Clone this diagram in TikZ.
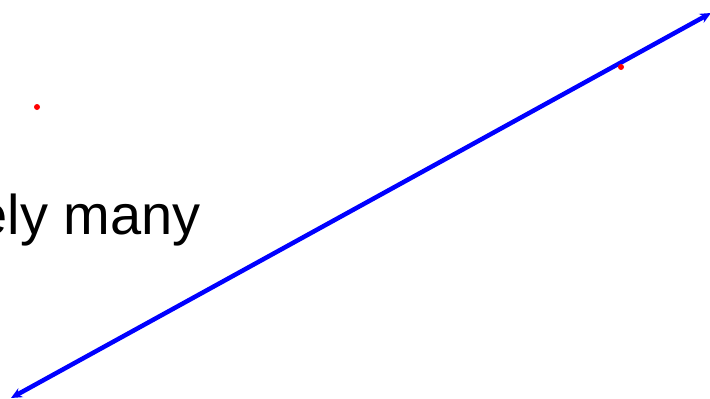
\documentclass[tikz,border=0pt]{standalone}
\usepackage{fontspec}
\setmainfont{Liberation Sans}
\usetikzlibrary{arrows.meta}
\begin{document}
\begin{tikzpicture}[x=1pt,y=-1pt,
  bigtext/.style={inner sep=0pt,font=\fontsize{56}{67}\selectfont},
  reddot/.style={circle,fill=red,inner sep=0pt,minimum size=6pt},
  blueline/.style={draw=blue,line width=4.5pt,{Stealth[length=11pt,width=10pt]}-{Stealth[length=11pt,width=10pt]}}]
\useasboundingbox (0,0) rectangle (710,399);
\clip (0,0) rectangle (710,399);
\node[bigtext,anchor=base east] (txt) at (201,234) {ely many};
\coordinate (a) at (11,398);
\coordinate (b) at (711,13);
\draw[blueline] (a) -- (b);
\node[reddot] (p) at (37,107) {};
\node[reddot] (q) at (621,67) {};
\end{tikzpicture}
\end{document}
